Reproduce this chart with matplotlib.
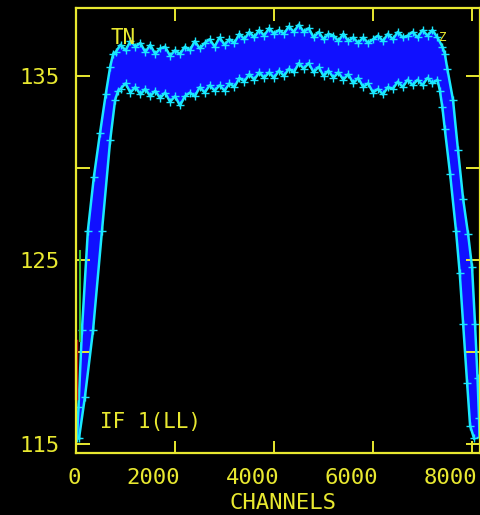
import matplotlib
matplotlib.use("Agg")
import matplotlib.pyplot as plt
from matplotlib.transforms import ScaledTranslation

# upper (outer) envelope of the passband, channel -> amplitude
upper_ch = [20, 50, 120, 240, 360, 485, 600, 690, 750,
            800, 900, 1000, 1100, 1200, 1300, 1400, 1500, 1600, 1700,
            1800, 1900, 2000, 2100, 2200, 2300, 2400, 2500, 2600, 2700,
            2800, 2900, 3000, 3100, 3200, 3300, 3400, 3500, 3600, 3700,
            3800, 3900, 4000, 4100, 4200, 4300, 4400, 4500, 4600, 4700,
            4800, 4900, 5000, 5100, 5200, 5300, 5400, 5500, 5600, 5700,
            5800, 5900, 6000, 6100, 6200, 6300, 6400, 6500, 6600, 6700,
            6800, 6900, 7000, 7100, 7200, 7300,
            7400, 7450, 7500, 7615, 7715, 7820, 7920, 8000, 8060, 8110, 8140, 8150]
upper_val = [115.3, 117.0, 121.2, 126.6, 129.5, 131.9, 134.0, 135.5, 136.2,
             136.3, 136.7, 136.4, 136.9, 136.6, 136.8, 136.3, 136.7, 136.2, 136.5,
             136.6, 136.1, 136.4, 136.2, 136.6, 136.4, 136.9, 136.5, 136.8, 137.0,
             136.6, 137.1, 136.7, 137.0, 136.8, 137.3, 137.0, 137.4, 137.1, 137.5,
             137.2, 137.6, 137.3, 137.5, 137.3, 137.7, 137.4, 137.8, 137.4, 137.6,
             137.1, 137.4, 137.0, 137.3, 137.2, 136.9, 137.3, 136.9, 137.1, 136.8,
             137.1, 136.8, 137.0, 137.2, 136.9, 137.3, 137.0, 137.4, 137.1, 137.2,
             137.4, 137.1, 137.5, 137.2, 137.5, 137.1,
             136.6, 136.2, 135.4, 133.7, 131.0, 128.3, 126.4, 124.6, 121.5, 118.6, 116.4, 115.4]

# lower (inner) envelope
lower_ch = [60, 180, 345, 525, 690, 790, 850,
            900, 1000, 1100, 1200, 1300, 1400, 1500, 1600, 1700, 1800,
            1900, 2000, 2100, 2200, 2300, 2400, 2500, 2600, 2700, 2800,
            2900, 3000, 3100, 3200, 3300, 3400, 3500, 3600, 3700, 3800,
            3900, 4000, 4100, 4200, 4300, 4400, 4500, 4600, 4700, 4800,
            4900, 5000, 5100, 5200, 5300, 5400, 5500, 5600, 5700, 5800,
            5900, 6000, 6100, 6200, 6300, 6400, 6500, 6600, 6700, 6800,
            6900, 7000, 7100, 7200, 7300,
            7350, 7400, 7450, 7555, 7675, 7750, 7820, 7900, 7960, 8040]
lower_val = [115.3, 117.55, 121.2, 126.6, 131.5, 133.7, 134.2,
             134.3, 134.6, 134.1, 134.4, 134.0, 134.3, 133.9, 134.2, 133.8, 134.1,
             133.6, 133.9, 133.4, 133.9, 134.1, 133.9, 134.4, 134.1, 134.5, 134.2,
             134.5, 134.2, 134.6, 134.4, 134.9, 134.7, 135.1, 134.8, 135.2, 134.9,
             135.2, 134.9, 135.3, 135.0, 135.4, 135.2, 135.7, 135.4, 135.7, 135.2,
             135.5, 135.0, 135.3, 134.9, 135.2, 134.8, 135.1, 134.6, 134.9, 134.4,
             134.6, 134.1, 134.3, 134.0, 134.4, 134.3, 134.7, 134.4, 134.8, 134.5,
             134.8, 134.5, 134.9, 134.6, 134.8,
             134.2, 133.3, 132.1, 129.7, 126.6, 124.3, 121.5, 118.3, 116.0, 115.3]

# short coloured traces at the left edge
green_ch = [90, 90]
green_val = [125.5, 120.6]
red_ch = [0, 0]
red_val = [120.6, 117.5]

x_ticks = [0, 2000, 4000, 6000, 8000]
y_ticks = [115, 120, 125, 130, 135]
y_labels = ["115", "", "125", "", "135"]

yellow = "#e8e830"
cyan = "#1ae8ff"
blue = "#1010ff"
font = "DejaVu Sans Mono"

fig = plt.figure(figsize=(4.81, 5.15), dpi=100, facecolor="black")
ax = fig.add_axes([76 / 481, 1 - 453 / 515, 404 / 481, 445 / 515])
ax.set_facecolor("black")

# band: upper curve forward, lower curve back
poly_x = upper_ch + lower_ch[::-1]
poly_y = upper_val + lower_val[::-1]
ax.fill(poly_x, poly_y, color=blue, lw=0)
ax.plot(upper_ch, upper_val, color=cyan, lw=1.8, marker="+", ms=6, mew=1)
ax.plot(lower_ch, lower_val, color=cyan, lw=1.8, marker="+", ms=6, mew=1)
ax.plot(green_ch, green_val, color="#30c030", lw=1.5)
ax.plot(red_ch, red_val, color="#c01010", lw=2.5, clip_on=False)

ax.set_xlim(0, 8160)
ax.set_ylim(114.51, 138.7)

ax.set_xticks(x_ticks)
ax.set_yticks(y_ticks)
ax.set_yticklabels(y_labels)
ax.tick_params(axis="x", direction="in", length=9, width=1.4, colors=yellow,
               top=True, pad=11, labelsize=16)
ax.tick_params(axis="y", direction="in", length=10, width=1.4, colors=yellow,
               right=True, pad=12, labelsize=16)
# x labels sit right-aligned just past their ticks
shift = ScaledTranslation(5 / 100, 0, fig.dpi_scale_trans)
for lab in ax.get_xticklabels():
    lab.set_fontfamily(font)
    lab.set_ha("right")
    lab.set_transform(lab.get_transform() + shift)
for lab in ax.get_yticklabels():
    lab.set_fontfamily(font)
for sp in ax.spines.values():
    sp.set_color(yellow)
    sp.set_linewidth(1.6)

ax.text(690, 137.07, "TN", color=yellow, fontsize=15, family=font, va="center", ha="left")
ax.text(485, 116.2, "IF 1(LL)", color=yellow, fontsize=15, family=font, va="center", ha="left")
ax.text(7330, 137.1, "Z", color=yellow, fontsize=9, family=font, va="center", ha="left")

fig.text(283 / 481, 1 - 503 / 515, "CHANNELS", color=yellow, fontsize=16,
         family=font, ha="center", va="center")

fig.savefig("out.png", dpi=100, facecolor="black")
